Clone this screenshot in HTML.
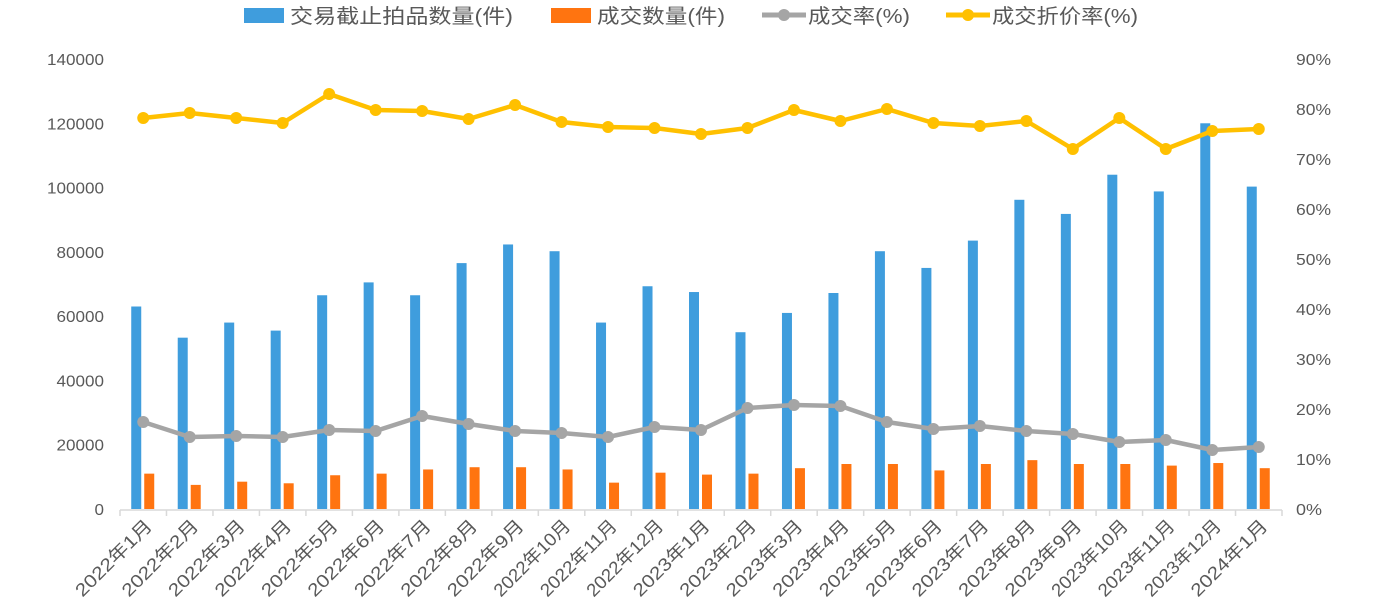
<!DOCTYPE html>
<html><head><meta charset="utf-8"><style>
html,body{margin:0;padding:0;background:#fff;}
svg text{font-family:"Liberation Sans","Noto Sans CJK SC",sans-serif;fill:#595959;}
</style></head><body>
<svg id="c" width="1386" height="608" xmlns="http://www.w3.org/2000/svg">
<rect width="1386" height="608" fill="#fff"/>
<g font-size="20">
<rect x="244" y="8" width="40" height="15" fill="#3f9ddd"/>
<text x="290" y="23" textLength="223" lengthAdjust="spacingAndGlyphs">交易截止拍品数量(件)</text>
<rect x="551" y="8" width="40" height="15" fill="#ff7410"/>
<text x="597" y="23" textLength="128" lengthAdjust="spacingAndGlyphs">成交数量(件)</text>
<line x1="762" y1="15" x2="806" y2="15" stroke="#a5a5a5" stroke-width="5"/>
<circle cx="784" cy="15" r="6" fill="#a5a5a5"/>
<text x="808" y="23" textLength="102" lengthAdjust="spacingAndGlyphs">成交率(%)</text>
<line x1="946" y1="15" x2="990" y2="15" stroke="#ffc000" stroke-width="5"/>
<circle cx="968" cy="15" r="6" fill="#ffc000"/>
<text x="992" y="23" textLength="146" lengthAdjust="spacingAndGlyphs">成交折价率(%)</text>
</g>
</svg>
<script>
var s=document.getElementById('c'),ns='http://www.w3.org/2000/svg';
function el(t,a,txt){var e=document.createElementNS(ns,t);for(var k in a)e.setAttribute(k,a[k]);if(txt!=null)e.textContent=txt;s.appendChild(e);return e;}
var blue=[63000,53300,58000,55500,66500,70500,66500,76500,82300,80200,58000,69300,67500,55000,61000,67200,80200,75000,83500,96200,91800,104000,98800,120000,100300];
var orng=[11000,7500,8500,8000,10500,11000,12300,13000,13000,12300,8200,11300,10700,11000,12700,14000,14000,12000,14000,15200,14000,14000,13500,14300,12700];
var gy=[422,437,436,437,430,431,416,424,431,433,437,427,430,408,405,406,422,429,426,431,434,442,440,450,447];
var yy=[118,113,118,123,94,110,111,119,105,122,127,128,134,128,110,121,109,123,126,121,149,118,149,131,129];
var base=509,sc=450/140000,x0=120,w=46.48;
for(var i=0;i<=7;i++){var v=i*20000,y=base-v*sc,str=String(v);el('text',{x:104,y:y+6,'font-size':16,'text-anchor':'end',textLength:str.length*9.5,lengthAdjust:'spacingAndGlyphs'},str);}
for(var i=0;i<=9;i++){var y=base-i*50,str=i*10+'%';el('text',{x:1296,y:y+6,'font-size':16,textLength:str.length==3?35:26,lengthAdjust:'spacingAndGlyphs'},str);}
el('line',{x1:x0,y1:510,x2:x0+25*w,y2:510,stroke:'#d9d9d9','stroke-width':1.5});
for(var i=0;i<=25;i++){var x=x0+i*w;el('line',{x1:x,y1:510,x2:x,y2:516,stroke:'#d9d9d9','stroke-width':1.5});}
var labels=[];for(var m=1;m<=12;m++)labels.push('2022年'+m+'月');for(var m=1;m<=12;m++)labels.push('2023年'+m+'月');labels.push('2024年1月');
for(var i=0;i<25;i++){var c=x0+w*(i+0.5);
el('rect',{x:c-12,y:base-blue[i]*sc,width:10,height:blue[i]*sc,fill:'#3f9ddd'});
el('rect',{x:c+1,y:base-orng[i]*sc,width:10,height:orng[i]*sc,fill:'#ff7410'});
var L=labels[i].length>=9?112:100;
el('text',{x:c+10,y:527,'font-size':18,'text-anchor':'end',textLength:L,lengthAdjust:'spacingAndGlyphs',transform:'rotate(-45 '+(c+10)+' 527)'},labels[i]);}
function line(arr,col){var p=[];for(var i=0;i<25;i++)p.push((x0+w*(i+0.5))+','+arr[i]);
el('polyline',{points:p.join(' '),fill:'none',stroke:col,'stroke-width':4.5,'stroke-linejoin':'round'});
for(var i=0;i<25;i++)el('circle',{cx:x0+w*(i+0.5),cy:arr[i],r:6,fill:col});}
line(gy,'#a5a5a5');line(yy,'#ffc000');
</script>
</body></html>
